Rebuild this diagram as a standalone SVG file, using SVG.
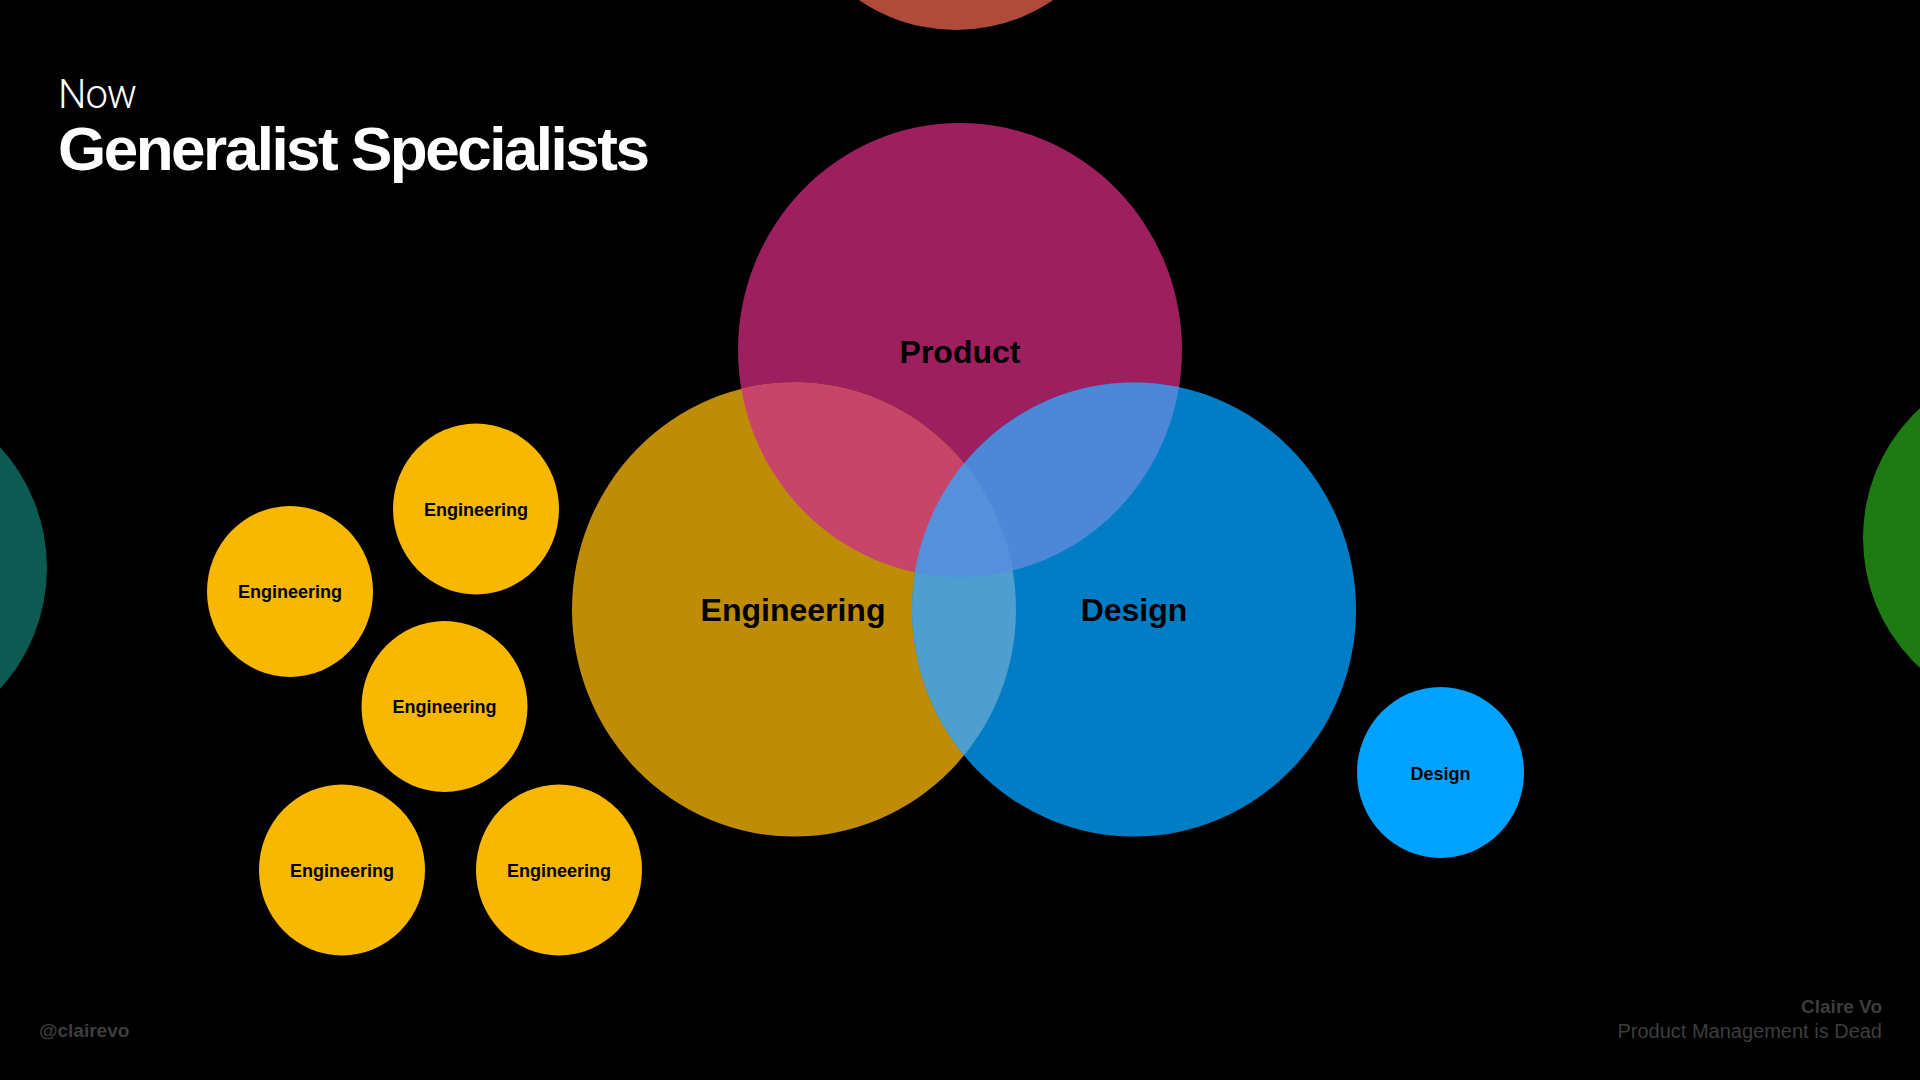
<svg xmlns="http://www.w3.org/2000/svg" width="1920" height="1080" viewBox="0 0 1920 1080">
  <style>
    .lbl { font-family: "Liberation Sans", Arial, Helvetica, sans-serif; font-weight: bold; fill: #000; text-anchor: middle; }
    .big { font-size: 32px; }
    .small { font-size: 18px; }
    .eng { fill: #f9b800; }
    .foot { font-family: "Liberation Sans", Arial, Helvetica, sans-serif; fill: #3d3d3d; }
  </style>
  <defs>
    <ellipse id="prodShape" cx="960" cy="350" rx="222" ry="227"/>
    <ellipse id="engShape" cx="794" cy="609.5" rx="222" ry="227"/>
    <ellipse id="desShape" cx="1134" cy="609.5" rx="222" ry="227"/>
    <clipPath id="clipProd"><use href="#prodShape"/></clipPath>
    <clipPath id="clipEng"><use href="#engShape"/></clipPath>
    <clipPath id="clipDes"><use href="#desShape"/></clipPath>
  </defs>

  <rect width="1920" height="1080" fill="#000"/>

  <!-- edge circles -->
  <g id="edge-red"><ellipse cx="956" cy="-148" rx="175" ry="178" fill="#b04a3a"/></g>
  <g id="edge-teal"><ellipse cx="-125" cy="568" rx="172" ry="176" fill="#0d5a52"/></g>
  <g id="edge-green"><ellipse cx="2031" cy="538" rx="168" ry="173" fill="#1e7a12"/></g>

  <!-- title -->
  <g id="title">
    <text x="58" y="108" font-family="Roboto, 'Liberation Sans', Arial, sans-serif" font-weight="300" font-size="40" fill="#fff" letter-spacing="-1">Now</text>
    <text x="58" y="170" font-family="'Liberation Sans', Arial, Helvetica, sans-serif" font-weight="bold" font-size="62" fill="#fff" letter-spacing="-2.5">Generalist Specialists</text>
  </g>

  <!-- venn -->
  <g id="venn">
    <g id="product"><use href="#prodShape" fill="#9e1f5e"/></g>
    <g id="engineering"><use href="#engShape" fill="#bf8c08"/></g>
    <g id="design"><use href="#desShape" fill="#007dc5"/></g>
    <g id="overlaps">
      <g clip-path="url(#clipProd)"><use href="#engShape" fill="#c8456a"/></g>
      <g clip-path="url(#clipProd)"><use href="#desShape" fill="#4d88d8"/></g>
      <g clip-path="url(#clipEng)"><use href="#desShape" fill="#4e9fce"/></g>
      <g clip-path="url(#clipProd)"><g clip-path="url(#clipEng)"><use href="#desShape" fill="#5690dd"/></g></g>
    </g>
    <text class="lbl big" x="960" y="363">Product</text>
    <text class="lbl big" x="793" y="621">Engineering</text>
    <text class="lbl big" x="1134" y="621">Design</text>
  </g>

  <!-- small engineering circles -->
  <g id="eng-1"><ellipse class="eng" cx="476" cy="509" rx="83" ry="85.5"/><text class="lbl small" x="476" y="516">Engineering</text></g>
  <g id="eng-2"><ellipse class="eng" cx="290" cy="591.5" rx="83" ry="85.5"/><text class="lbl small" x="290" y="598">Engineering</text></g>
  <g id="eng-3"><ellipse class="eng" cx="444.5" cy="706.5" rx="83" ry="85.5"/><text class="lbl small" x="444.5" y="713">Engineering</text></g>
  <g id="eng-4"><ellipse class="eng" cx="342" cy="870" rx="83" ry="85.5"/><text class="lbl small" x="342" y="877">Engineering</text></g>
  <g id="eng-5"><ellipse class="eng" cx="559" cy="870" rx="83" ry="85.5"/><text class="lbl small" x="559" y="877">Engineering</text></g>

  <!-- small design -->
  <g id="design-small"><ellipse cx="1440.5" cy="772.5" rx="83.5" ry="85.5" fill="#00a2ff"/><text class="lbl small" x="1440.5" y="780">Design</text></g>

  <g id="connectors"/>

  <!-- footer -->
  <g id="footer">
    <text class="foot" x="39" y="1037" font-size="19" font-weight="bold">@clairevo</text>
    <text class="foot" x="1882" y="1013" font-size="19" font-weight="bold" text-anchor="end">Claire Vo</text>
    <text class="foot" x="1882" y="1038" font-size="20" text-anchor="end">Product Management is Dead</text>
  </g>
</svg>
